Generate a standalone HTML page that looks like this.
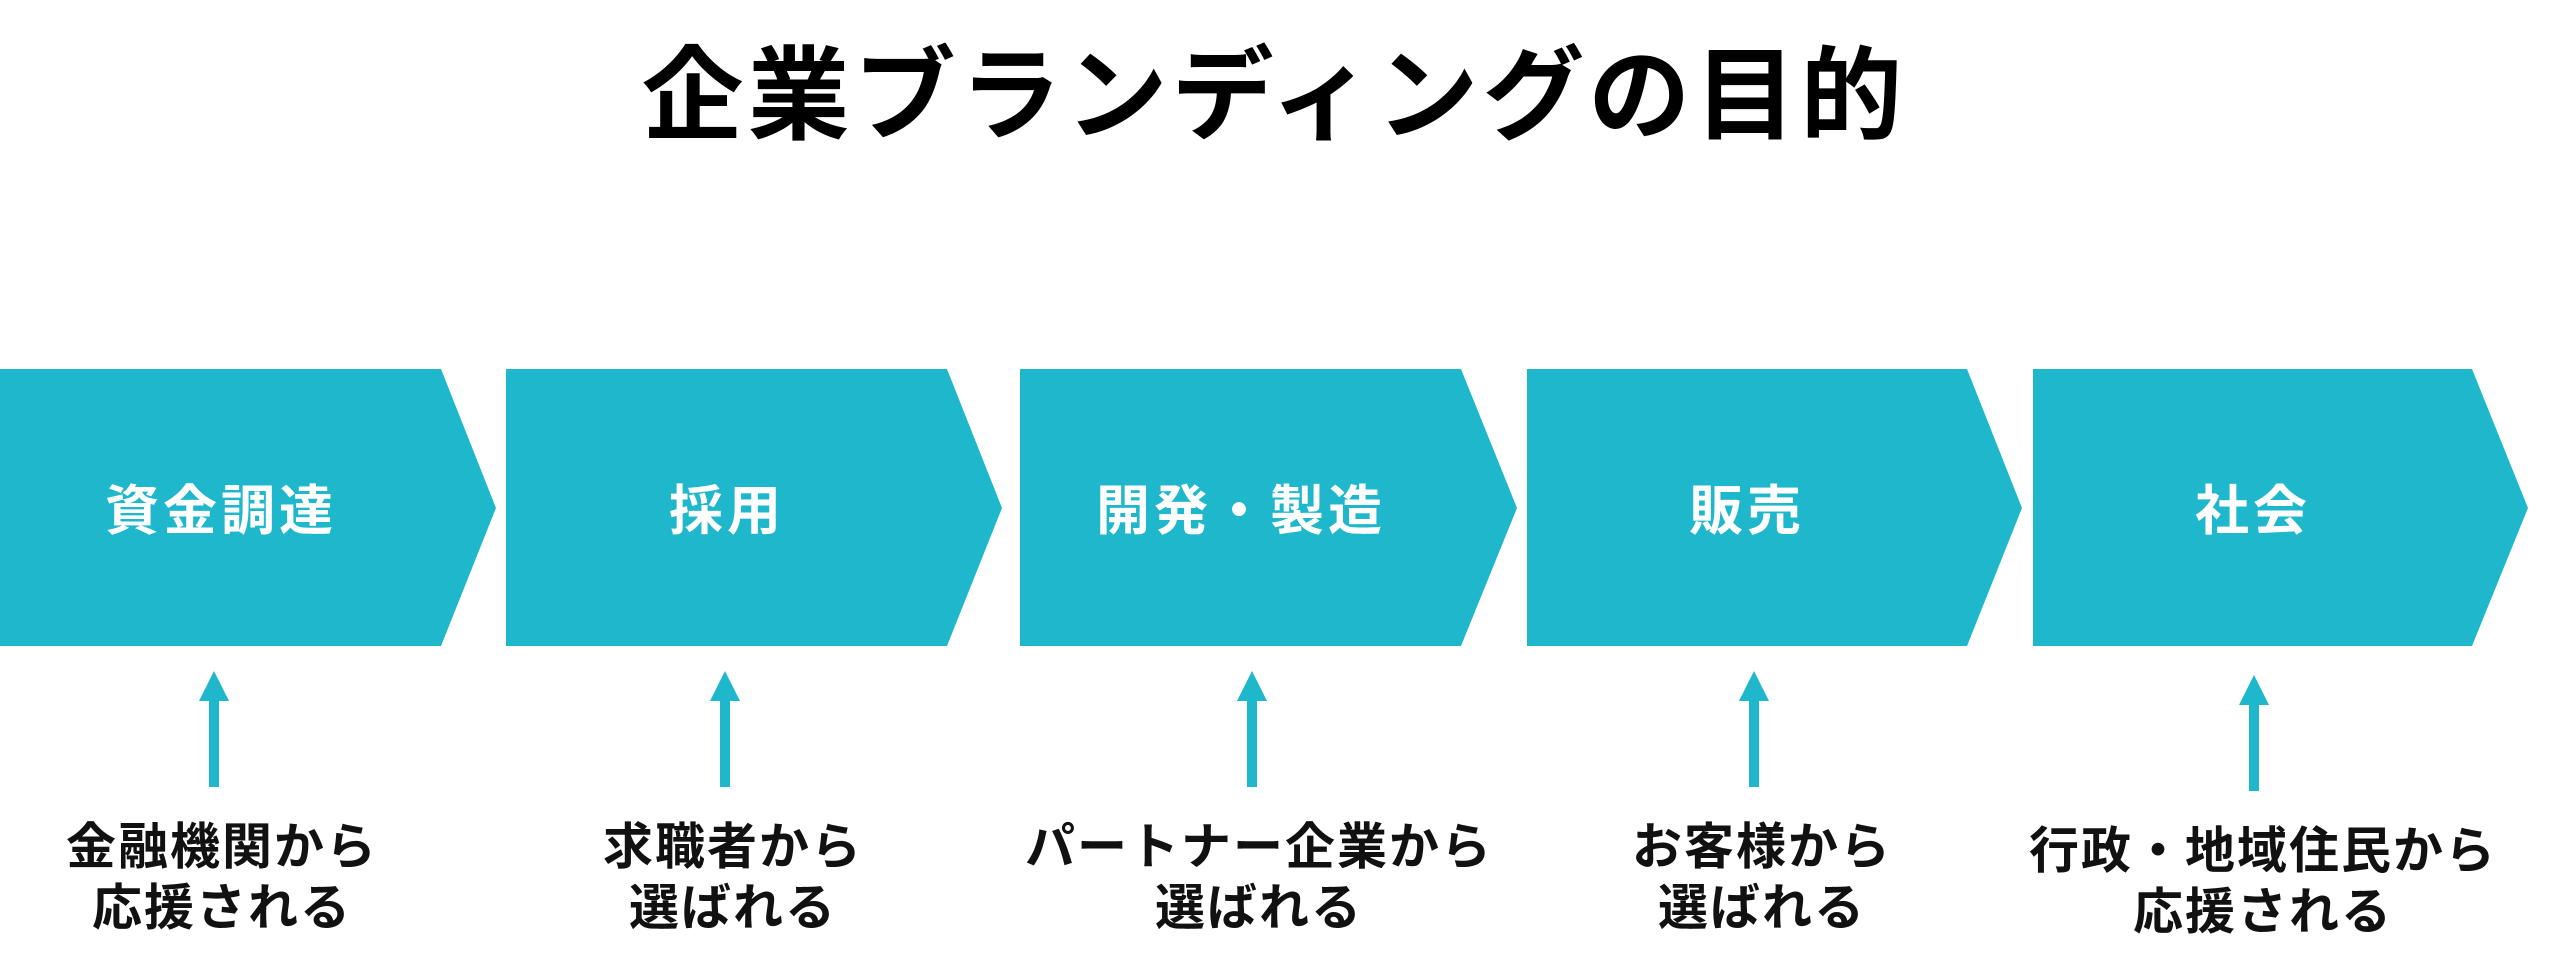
<!DOCTYPE html>
<html><head><meta charset="utf-8"><style>
html,body{margin:0;padding:0;background:#fff;}
body{width:2560px;height:979px;position:relative;overflow:hidden;font-family:"Liberation Sans","Noto Sans CJK JP",sans-serif;}
.t{position:absolute;white-space:nowrap;text-align:center;font-weight:bold;transform:translate(-50%,-50%);}
.title{left:1274px;top:88px;font-size:102px;letter-spacing:4px;color:#000;}
.s{font-size:54px;color:#fff;top:506px;letter-spacing:4px;}
.l{font-size:50px;color:#111;letter-spacing:2px;line-height:61px;}
</style></head><body>
<svg width="2560" height="979" style="position:absolute;left:0;top:0">
<g fill="#1fb7cc">
<polygon points="0,369 441,369 496,508 441,646 0,646"/>
<polygon points="506,369 947,369 1002,508 947,646 506,646"/>
<polygon points="1020,369 1461,369 1517,508 1461,646 1020,646"/>
<polygon points="1527,369 1967,369 2022,508 1967,646 1527,646"/>
<polygon points="2033,369 2472,369 2528,508 2472,646 2033,646"/>
<g>
<polygon points="214,671 199,701 229,701"/><rect x="209" y="700" width="10" height="87"/>
<polygon points="725,671 710,701 740,701"/><rect x="720" y="700" width="10" height="87"/>
<polygon points="1252,671 1237,701 1267,701"/><rect x="1247" y="700" width="10" height="87"/>
<polygon points="1754,671 1739,701 1769,701"/><rect x="1749" y="700" width="10" height="87"/>
<polygon points="2254,675 2239,705 2269,705"/><rect x="2249" y="704" width="10" height="87"/>
</g></g></svg>
<div class="t title">企業ブランディングの目的</div>
<div class="t s" style="left:221px">資金調達</div>
<div class="t s" style="left:727px">採用</div>
<div class="t s" style="left:1241px">開発・製造</div>
<div class="t s" style="left:1747px">販売</div>
<div class="t s" style="left:2253px">社会</div>
<div class="t l" style="left:222px;top:878px">金融機関から<br>応援される</div>
<div class="t l" style="left:733px;top:878px">求職者から<br>選ばれる</div>
<div class="t l" style="left:1259px;top:878px">パートナー企業から<br>選ばれる</div>
<div class="t l" style="left:1762px;top:878px">お客様から<br>選ばれる</div>
<div class="t l" style="left:2263px;top:882px">行政・地域住民から<br>応援される</div>
</body></html>
